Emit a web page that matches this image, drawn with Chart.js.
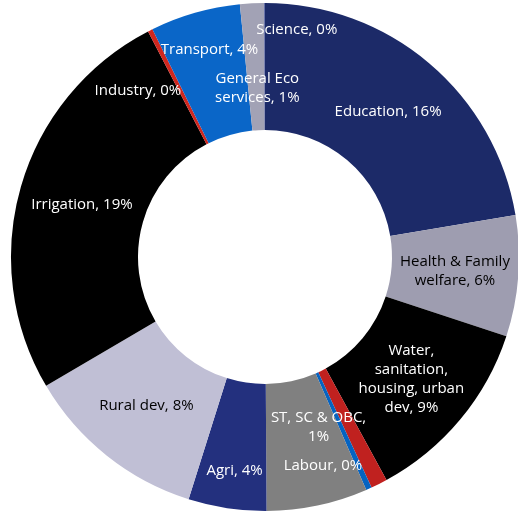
<!DOCTYPE html>
<html>
<head>
<meta charset="utf-8">
<script src="https://cdn.jsdelivr.net/npm/chart.js@4/dist/chart.umd.min.js"></script>
<style>
  html, body { margin: 0; padding: 0; background: #fff; overflow: hidden; }
  #wrap { width: 518px; height: 514px; overflow: hidden; }
  canvas { display: block; }
</style>
</head>
<body>
<div id="wrap"><canvas id="spendChart" width="530" height="514"></canvas></div>
<script>
  // share of total spend by sector (%), clockwise from 12 o'clock
  const sectors = [
    "Education",
    "Health & Family welfare",
    "Water, sanitation, housing, urban dev",
    "ST, SC & OBC",
    "Labour",
    "Others",
    "Agri",
    "Rural dev",
    "Irrigation",
    "Industry",
    "Transport",
    "General Eco services",
    "Science",
  ];
  const shares = [16.0, 5.5, 8.6, 0.75, 0.26, 4.6, 3.55, 8.35, 18.5, 0.22, 4.1, 1.1, 0.03];

  // how each label is broken into lines (null = no label)
  const labelLines = [
    ["Education, {v}"],
    ["Health & Family", "welfare, {v}"],
    ["Water,", "sanitation,", "housing, urban", "dev, {v}"],
    ["ST, SC & OBC,", "{v}"],
    ["Labour, {v}"],
    null,
    ["Agri, {v}"],
    ["Rural dev, {v}"],
    ["Irrigation, {v}"],
    ["Industry, {v}"],
    ["Transport, {v}"],
    ["General Eco", "services, {v}"],
    ["Science, {v}"],
  ];

  const colors = [
    "#1c2a68", "#9e9db0", "#000000", "#c0211f", "#0563c1", "#808080",
    "#23307e", "#c0bfd5", "#000000", "#d0271f", "#0a66c8", "#a2a2b5", "#2a3a8a",
  ];
  const darkText = ["Health & Family welfare", "Rural dev"];

  // small shifts for labels that sit off their slice centre
  const nudge = {
    "ST, SC & OBC": [-32, 0],
    "Labour": [-20, 35],
    "Agri": [-2, 25],
    "Industry": [-41, 4],
    "Transport": [-3, -24],
    "General Eco services": [2, 21],
    "Science": [32, -37],
  };

  const sliceLabels = {
    id: "sliceLabels",
    afterDatasetsDraw(chart) {
      const ctx = chart.ctx;
      const meta = chart.getDatasetMeta(0);
      ctx.save();
      ctx.font = "15px 'Open Sans'";
      ctx.textAlign = "center";
      ctx.textBaseline = "middle";
      const lineH = 19;
      meta.data.forEach(function (arc, i) {
        const lines = labelLines[i];
        if (!lines) return;
        const pct = Math.round(shares[i]) + "%";
        const pos = arc.tooltipPosition();
        const d = nudge[sectors[i]] || [0, 0];
        ctx.fillStyle = darkText.includes(sectors[i]) ? "#000" : "#fff";
        const top = pos.y + d[1] - ((lines.length - 1) * lineH) / 2;
        lines.forEach(function (t, k) {
          ctx.fillText(t.replace("{v}", pct), pos.x + d[0], top + k * lineH);
        });
      });
      ctx.restore();
    },
  };

  new Chart(document.getElementById("spendChart"), {
    type: "doughnut",
    data: {
      labels: sectors,
      datasets: [
        {
          data: shares,
          backgroundColor: colors,
          borderWidth: 0,
        },
      ],
    },
    options: {
      responsive: false,
      animation: false,
      cutout: "50%",
      layout: { padding: { left: 11, right: 11, top: 3, bottom: 3 } },
      plugins: {
        legend: { display: false },
        tooltip: { enabled: false },
      },
    },
    plugins: [sliceLabels],
  });
</script>
</body>
</html>
